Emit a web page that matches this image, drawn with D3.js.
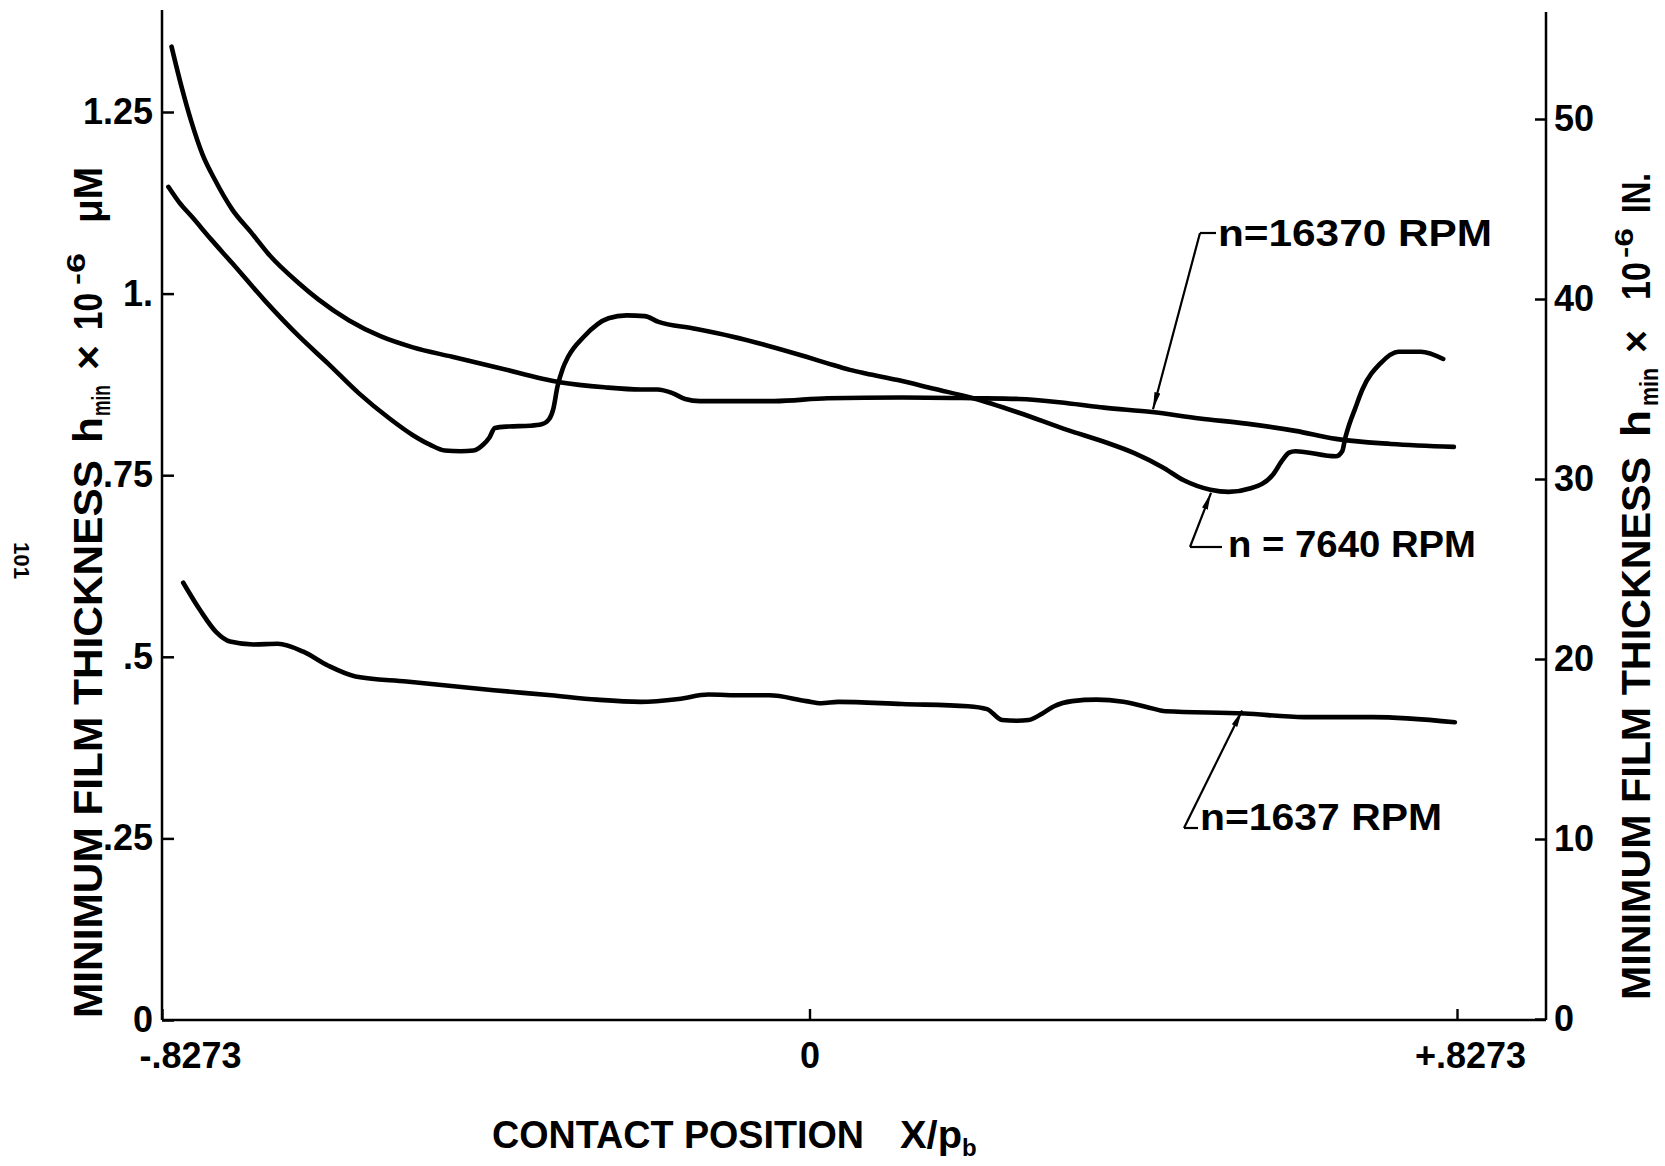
<!DOCTYPE html>
<html><head><meta charset="utf-8">
<script src="https://cdn.jsdelivr.net/npm/d3@7"></script>
<style>
html,body{margin:0;padding:0;background:#fff;}
svg{display:block;}
text{font-family:"Liberation Sans",Arial,sans-serif;font-weight:bold;fill:#000;}
</style></head><body>
<svg id="chart" width="1665" height="1166"></svg>
<script>
// ---------- DATA ----------
const xTickValues = [-0.8273, 0, 0.8273];
const xTickLabels = ["-.8273", "0", "+.8273"];
const yLeftTickValues = [0, 0.25, 0.5, 0.75, 1.0, 1.25];
const yLeftTickLabels = ["0", ".25", ".5", ".75", "1.", "1.25"];
const yRightTickValues = [0, 10, 20, 30, 40, 50];
const yRightTickLabels = ["0", "10", "20", "30", "40", "50"];

const seriesNames = ["n=16370 RPM", "n = 7640 RPM", "n=1637 RPM"];

const x16370 = [-0.8151,-0.8029,-0.7893,-0.7757,-0.7594,-0.7377,-0.7132,-0.6901,-0.6521,-0.6276,
  -0.5882,-0.5475,-0.5067,-0.4565,-0.3980,-0.3192,-0.2622,-0.2160,-0.1943,-0.1752,
  -0.1589,-0.1399,-0.0448,0.0231,0.1182,0.2092,0.2676,0.3301,0.3763,0.4374,
  0.4986,0.5583,0.6208,0.6725,0.7431,0.8233];
const h16370 = [1.340,1.287,1.235,1.192,1.156,1.116,1.084,1.053,1.014,0.992,
  0.963,0.941,0.926,0.913,0.898,0.878,0.871,0.868,0.868,0.863,
  0.855,0.852,0.852,0.856,0.857,0.856,0.855,0.849,0.843,0.837,
  0.828,0.821,0.811,0.800,0.793,0.789];

const x7640 = [-0.8192,-0.8056,-0.7893,-0.7648,-0.7377,-0.6956,-0.6521,-0.6154,-0.5760,-0.5366,
  -0.5067,-0.4850,-0.4660,-0.4456,-0.4293,-0.4171,-0.4089,-0.4021,-0.3845,-0.3573,
  -0.3423,-0.3328,-0.3274,-0.3220,-0.3152,-0.3084,-0.2880,-0.2568,-0.2337,-0.2106,
  -0.1929,-0.1481,-0.0992,-0.0557,-0.0041,0.0231,0.0516,0.0720,0.1128,0.1589,
  0.2092,0.2676,0.3301,0.3763,0.4157,0.4510,0.4782,0.5122,0.5353,0.5638,
  0.5923,0.6045,0.6127,0.6208,0.6725,0.6806,0.6847,0.6888,0.6969,0.7064,
  0.7295,0.7526,0.7811,0.8097];
const h7640 = [1.147,1.126,1.106,1.075,1.042,0.990,0.941,0.904,0.863,0.828,
  0.805,0.792,0.784,0.783,0.784,0.792,0.802,0.815,0.817,0.818,
  0.820,0.827,0.841,0.872,0.897,0.913,0.941,0.966,0.970,0.969,
  0.961,0.952,0.941,0.929,0.913,0.904,0.895,0.890,0.881,0.869,
  0.856,0.836,0.812,0.796,0.780,0.761,0.743,0.730,0.727,0.732,
  0.751,0.771,0.781,0.783,0.776,0.783,0.802,0.817,0.841,0.868,
  0.904,0.920,0.920,0.910];

const x1637 = [-0.8002,-0.7785,-0.7580,-0.7403,-0.7105,-0.6793,-0.6467,-0.6154,-0.5801,-0.5149,
  -0.4035,-0.3301,-0.2717,-0.2160,-0.1671,-0.1291,-0.0856,-0.0516,-0.0041,0.0149,
  0.0367,0.1182,0.2024,0.2269,0.2459,0.2649,0.2799,0.2975,0.3125,0.3356,
  0.3668,0.4008,0.4306,0.4551,0.5556,0.6317,0.7200,0.8246];
const h1637 = [0.602,0.564,0.534,0.521,0.517,0.518,0.507,0.488,0.473,0.466,
  0.454,0.447,0.441,0.438,0.442,0.448,0.447,0.447,0.439,0.436,
  0.438,0.435,0.432,0.428,0.413,0.412,0.413,0.422,0.432,0.439,
  0.441,0.438,0.431,0.425,0.422,0.417,0.417,0.410];

// label anchor positions on the curves (X/pb)
const labelTipX = [0.4389, 0.5130, 0.5527];

// ---------- CHART ----------
const svg = d3.select("#chart");
const W = 1665, H = 1166;
svg.append("rect").attr("width", W).attr("height", H).attr("fill", "#fff");

const x = d3.scaleLinear().domain([-0.8273, 0.8273]).range([162, 1457]);
const yL = d3.scaleLinear().domain([0, 1.25]).range([1020, 112]);
const yR = d3.scaleLinear().domain([0, 50]).range([1019, 119]);

const LEFT = 162, RIGHT = 1546, BOTTOM = 1020;

// frame lines
const frame = svg.append("g").attr("stroke", "#000").attr("stroke-width", 2.5).attr("fill", "none");
frame.append("line").attr("x1", LEFT).attr("y1", 10).attr("x2", LEFT).attr("y2", BOTTOM);
frame.append("line").attr("x1", RIGHT).attr("y1", 12).attr("x2", RIGHT).attr("y2", BOTTOM);
frame.append("line").attr("x1", LEFT).attr("y1", BOTTOM).attr("x2", RIGHT).attr("y2", BOTTOM);

// left axis
const axL = svg.append("g").attr("transform", `translate(${LEFT},0)`)
  .call(d3.axisLeft(yL).tickValues(yLeftTickValues)
    .tickFormat((d, i) => yLeftTickLabels[i]).tickSizeInner(-12).tickSizeOuter(0).tickPadding(9));
axL.select(".domain").remove();
axL.selectAll(".tick line").attr("stroke", "#000").attr("stroke-width", 2.5);
axL.selectAll(".tick text").attr("font-size", 36).attr("font-family", "Liberation Sans, Arial, sans-serif")
  .attr("font-weight", "bold").attr("fill", "#000");

// right axis
const axR = svg.append("g").attr("transform", `translate(${RIGHT},0)`)
  .call(d3.axisRight(yR).tickValues(yRightTickValues)
    .tickFormat((d, i) => yRightTickLabels[i]).tickSizeInner(-11).tickSizeOuter(0).tickPadding(8));
axR.select(".domain").remove();
axR.selectAll(".tick line").attr("stroke", "#000").attr("stroke-width", 2.5);
axR.selectAll(".tick text").attr("font-size", 36).attr("font-family", "Liberation Sans, Arial, sans-serif")
  .attr("font-weight", "bold").attr("fill", "#000");

// bottom axis
const xLabelShift = [28, 0, 13];
const axB = svg.append("g").attr("transform", `translate(0,${BOTTOM})`)
  .call(d3.axisBottom(x).tickValues(xTickValues)
    .tickFormat((d, i) => xTickLabels[i]).tickSizeInner(-11).tickSizeOuter(0).tickPadding(22));
axB.select(".domain").remove();
axB.selectAll(".tick line").attr("stroke", "#000").attr("stroke-width", 2.4);
axB.selectAll(".tick text").attr("font-size", 36).attr("font-family", "Liberation Sans, Arial, sans-serif")
  .attr("font-weight", "bold").attr("fill", "#000")
  .attr("dx", (d, i) => xLabelShift[i]);

// curves
const line = d3.line().x(d => x(d[0])).y(d => yL(d[1])).curve(d3.curveMonotoneX);
const seriesX = [x16370, x7640, x1637];
const seriesH = [h16370, h7640, h1637];
const series = seriesX.map((xs, k) => xs.map((v, i) => [v, seriesH[k][i]]));
svg.append("g").selectAll("path").data(series).join("path")
  .attr("d", line).attr("fill", "none").attr("stroke", "#000")
  .attr("stroke-width", 4.6).attr("stroke-linecap", "round").attr("stroke-linejoin", "round");

// arrow marker
svg.append("defs").append("marker").attr("id", "arr")
  .attr("markerUnits", "userSpaceOnUse").attr("viewBox", "0 -4 18 8")
  .attr("refX", 17).attr("refY", 0).attr("markerWidth", 18).attr("markerHeight", 8)
  .attr("orient", "auto")
  .append("path").attr("d", "M0,-3 L17,0 L0,3 Z").attr("fill", "#000");

function interpH(k, xv) {
  const xs = seriesX[k], hs = seriesH[k];
  const i = d3.bisectLeft(xs, xv);
  if (i <= 0) return hs[0];
  if (i >= xs.length) return hs[hs.length - 1];
  const t = (xv - xs[i - 1]) / (xs[i] - xs[i - 1]);
  return hs[i - 1] + t * (hs[i] - hs[i - 1]);
}

// annotation layout: elbow (start of leader), hook end, text position
const annLayout = [
  { elbow: [1200, 233], hook: [1216, 233], tx: 1218, ty: 246, len: 274 },
  { elbow: [1190, 547], hook: [1222, 547], tx: 1228, ty: 557, len: 248 },
  { elbow: [1184, 828], hook: [1198, 828], tx: 1200, ty: 830, len: 242 }
];
const ann = svg.append("g");
annLayout.forEach((a, k) => {
  const tx = x(labelTipX[k]), ty = yL(interpH(k, labelTipX[k])) + (k === 1 ? 3 : -3);
  ann.append("path")
    .attr("d", `M${a.hook[0]},${a.hook[1]} L${a.elbow[0]},${a.elbow[1]}`)
    .attr("fill", "none").attr("stroke", "#000").attr("stroke-width", 2.2);
  ann.append("line")
    .attr("x1", a.elbow[0]).attr("y1", a.elbow[1]).attr("x2", tx).attr("y2", ty)
    .attr("stroke", "#000").attr("stroke-width", 2.2).attr("marker-end", "url(#arr)");
  ann.append("text").attr("x", a.tx).attr("y", a.ty).attr("font-size", 36)
    .attr("textLength", a.len).attr("lengthAdjust", "spacingAndGlyphs")
    .text(seriesNames[k]);
});

// vertical (rotated) text helper
function vtext(bx, y0, y1, str, size, shift) {
  svg.append("text")
    .attr("transform", `translate(${bx + shift},${y0}) rotate(-90)`)
    .attr("font-size", size)
    .attr("textLength", y0 - y1).attr("lengthAdjust", "spacingAndGlyphs")
    .text(str);
}
// left axis title
vtext(102, 1018, 460, "MINIMUM FILM THICKNESS", 40, 0);
vtext(102, 443, 417, "h", 40, 0);
vtext(102, 416, 385, "min", 26, 8);
vtext(102, 370, 345, "\u00d7", 40, 0);
vtext(102, 330, 293, "10", 40, 0);
vtext(102, 285, 253, "-6", 26, -17);
vtext(102, 223, 167, "\u03bcM", 40, 0);
// right axis title
vtext(1650, 1000, 457, "MINIMUM FILM THICKNESS", 40, 0);
vtext(1650, 437, 410, "h", 40, 0);
vtext(1650, 406, 368, "min", 26, 8);
vtext(1650, 353, 330, "\u00d7", 40, 0);
vtext(1650, 300, 262, "10", 40, 0);
vtext(1650, 258, 228, "-6", 26, -17);
vtext(1650, 213, 173, "IN.", 40, 0);

// x axis title
svg.append("text").attr("x", 492).attr("y", 1148).attr("font-size", 38)
  .attr("textLength", 372).attr("lengthAdjust", "spacingAndGlyphs").text("CONTACT POSITION");
svg.append("text").attr("x", 900).attr("y", 1148).attr("font-size", 38)
  .attr("textLength", 62).attr("lengthAdjust", "spacingAndGlyphs").text("X/p");
svg.append("text").attr("x", 962).attr("y", 1156).attr("font-size", 24).text("b");

// page number
svg.append("text").attr("transform", "translate(14,542) rotate(90)")
  .attr("font-family", "Liberation Serif, DejaVu Serif, serif").attr("font-weight", "normal")
  .attr("font-size", 22).attr("textLength", 37).attr("lengthAdjust", "spacingAndGlyphs").text("101");
</script>
</body></html>
